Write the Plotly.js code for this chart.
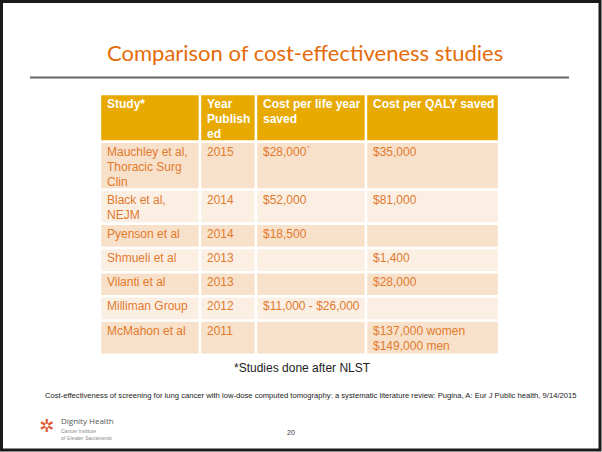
<!DOCTYPE html>
<html>
<head>
<meta charset="utf-8">
<script src="https://cdn.plot.ly/plotly-3.0.1.min.js"></script>
<style>
  html, body { margin: 0; padding: 0; background: #fff; }
  #chart { width: 602px; height: 452px; }
</style>
</head>
<body>
<div id="chart"></div>
<script>
// table contents
const headers = ['Study*', 'Year<br>Publish<br>ed', 'Cost per life year<br>saved', 'Cost per QALY saved'];
const studies = ['Mauchley et al,<br>Thoracic Surg<br>Clin', 'Black et al,<br>NEJM', 'Pyenson et al',
                 'Shmueli et al', 'Vilanti et al', 'Milliman Group', 'McMahon et al'];
const years = ['2015', '2014', '2014', '2013', '2013', '2012', '2011'];
const costLifeYear = ['$28,000`', '$52,000', '$18,500', '', '', '$11,000 - $26,000', ''];
const costQaly = ['$35,000', '$81,000', '', '$1,400', '$28,000', '', '$137,000 women<br>$149,000 men'];

const W = 602, H = 452;
const orange = '#E46C0A';
const cellText = '#E27A2C';
const headerFill = '#E8A900';
const oddFill = '#F8E1CA', evenFill = '#FBEFE4';

// table geometry (pixel units on hidden axes)
const tableLeft = 100, tableTop = 94;
const lineH = 15.2;
const colWidths = [100, 56, 110, 133];
const colLefts = colWidths.map((w, i) => tableLeft + colWidths.slice(0, i).reduce((a, b) => a + b, 0));

const rows = [headers].concat(studies.map((s, i) => [s, years[i], costLifeYear[i], costQaly[i]]));
const lineCount = row => Math.max(...row.map(t => t.split('<br>').length));
const rowHeights = rows.map(r => Math.max(24.2, 7 + 13.6 * lineCount(r)));
const rowTops = rowHeights.map((h, i) => tableTop + rowHeights.slice(0, i).reduce((a, b) => a + b, 0));

// one bar per cell, one annotation per text line
const barY = [], barX = [], barBase = [], barW = [], barColor = [];
const annotations = [];
rows.forEach((row, r) => {
    row.forEach((txt, c) => {
        barY.push(rowTops[r] + rowHeights[r] / 2);
        barX.push(colWidths[c]);
        barBase.push(colLefts[c]);
        barW.push(rowHeights[r]);
        barColor.push(r === 0 ? headerFill : (r % 2 === 1 ? oddFill : evenFill));
        if (!txt) return;
        txt.split('<br>').forEach((line, k) => {
            annotations.push({
                text: r === 0 ? '<b>' + line + '</b>' : line,
                xref: 'x', yref: 'y', x: colLefts[c] + 4.5, y: rowTops[r] + 10 + k * lineH,
                xanchor: 'left', yanchor: 'middle', showarrow: false,
                font: { family: 'Liberation Sans, Arial, sans-serif', size: 12,
                        color: r === 0 ? '#ffffff' : cellText }
            });
        });
    });
});

const cellTrace = {
    type: 'bar',
    orientation: 'h',
    y: barY,
    x: barX,
    base: barBase,
    width: barW,
    marker: { color: barColor, line: { color: '#ffffff', width: 2.4 } },
    hoverinfo: 'skip'
};

const hidden = { visible: false, showgrid: false, zeroline: false, fixedrange: true };

const slideText = [
    { text: 'Comparison of cost-effectiveness studies', x: 305, y: 52, xanchor: 'center',
      font: { family: 'Lato, Open Sans, sans-serif', size: 22, color: orange } },
    { text: '*Studies done after NLST', x: 302, y: 368, xanchor: 'center',
      font: { family: 'Liberation Sans, Arial, sans-serif', size: 12, color: '#222222' } },
    { text: 'Cost-effectiveness of screening for lung cancer with low-dose computed tomography: a systematic literature review: Pugina, A: Eur J Public health, 9/14/2015',
      x: 311, y: 395, xanchor: 'center',
      font: { family: 'Liberation Sans Narrow, Liberation Sans, Arial, sans-serif', size: 7.65, color: '#222222' } },
    { text: '20', x: 291, y: 432, xanchor: 'center',
      font: { family: 'Liberation Sans, Arial, sans-serif', size: 7, color: '#333333' } },
    { text: '✲', x: 46, y: 425, xanchor: 'center',
      font: { family: 'DejaVu Sans, sans-serif', size: 18, color: '#E0562E' } },
    { text: 'Dignity Health', x: 59, y: 420, xanchor: 'left',
      font: { family: 'Open Sans, sans-serif', size: 8, color: '#555555' } },
    { text: 'Cancer Institute<br>of Greater Sacramento', x: 59, y: 434, xanchor: 'left', align: 'left',
      font: { family: 'Liberation Sans, Arial, sans-serif', size: 5, color: '#8a8a8a' } }
].map(a => Object.assign({ xref: 'x', yref: 'y', yanchor: 'middle', showarrow: false }, a));

const layout = {
    width: W,
    height: H,
    margin: { l: 0, r: 0, t: 0, b: 0 },
    paper_bgcolor: '#ffffff',
    plot_bgcolor: '#ffffff',
    showlegend: false,
    xaxis: Object.assign({ range: [0, W] }, hidden),
    yaxis: Object.assign({ range: [H, 0] }, hidden),
    shapes: [
        // slide frame
        { type: 'rect', xref: 'x', yref: 'y', x0: 1.5, x1: 600, y0: 1.5, y1: 450,
          line: { color: '#1a1a1a', width: 3 } },
        // rule under title
        { type: 'line', xref: 'x', yref: 'y', x0: 30, x1: 569, y0: 77.5, y1: 77.5,
          line: { color: '#666666', width: 2 } }
    ],
    annotations: annotations.concat(slideText)
};

Plotly.newPlot('chart', [cellTrace], layout, { displayModeBar: false, staticPlot: true });
</script>
</body>
</html>
